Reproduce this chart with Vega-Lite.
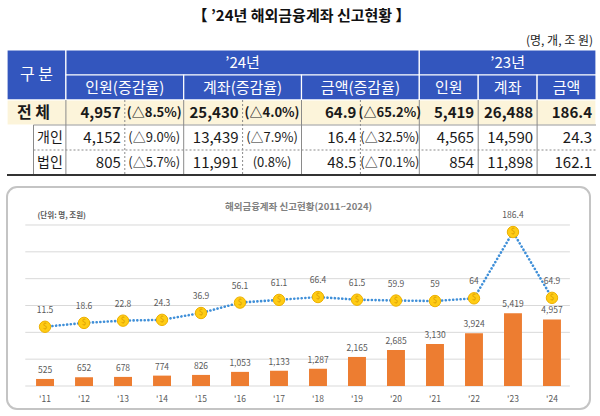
{
  "$schema": "https://vega.github.io/schema/vega-lite/v6.json",
  "background": "white",
  "padding": {"left": 6, "top": 0, "right": 0, "bottom": 0},
  "spacing": 10,
  "config": {
    "view": {"stroke": null},
    "font": "Noto Sans CJK KR"
  },
  "datasets": {
    "header": [
      {"c0": "구분", "c1": "구분", "r0": "h1", "r1": "h2", "kind": "header"},
      {"c0": "인원n", "c1": "금액p", "r0": "h1", "r1": "h1", "kind": "header"},
      {"c0": "인원23", "c1": "금액23", "r0": "h1", "r1": "h1", "kind": "header"},
      {"c0": "인원n", "c1": "인원p", "r0": "h2", "r1": "h2", "kind": "header"},
      {"c0": "계좌n", "c1": "계좌p", "r0": "h2", "r1": "h2", "kind": "header"},
      {"c0": "금액n", "c1": "금액p", "r0": "h2", "r1": "h2", "kind": "header"},
      {"c0": "인원23", "c1": "인원23", "r0": "h2", "r1": "h2", "kind": "header"},
      {"c0": "계좌23", "c1": "계좌23", "r0": "h2", "r1": "h2", "kind": "header"},
      {"c0": "금액23", "c1": "금액23", "r0": "h2", "r1": "h2", "kind": "header"},
      {"c0": "구분", "c1": "금액23", "r0": "전체", "r1": "전체", "kind": "total"}
    ],
    "cells": [
      {"r": "전체", "c": "구분", "t": "전 체"},
      {"r": "전체", "c": "인원n", "t": "4,957"},
      {"r": "전체", "c": "인원p", "t": "(△8.5%)"},
      {"r": "전체", "c": "계좌n", "t": "25,430"},
      {"r": "전체", "c": "계좌p", "t": "(△4.0%)"},
      {"r": "전체", "c": "금액n", "t": "64.9"},
      {"r": "전체", "c": "금액p", "t": "(△65.2%)"},
      {"r": "전체", "c": "인원23", "t": "5,419"},
      {"r": "전체", "c": "계좌23", "t": "26,488"},
      {"r": "전체", "c": "금액23", "t": "186.4"},
      {"r": "개인", "c": "구분", "t": "개인"},
      {"r": "개인", "c": "인원n", "t": "4,152"},
      {"r": "개인", "c": "인원p", "t": "(△9.0%)"},
      {"r": "개인", "c": "계좌n", "t": "13,439"},
      {"r": "개인", "c": "계좌p", "t": "(△7.9%)"},
      {"r": "개인", "c": "금액n", "t": "16.4"},
      {"r": "개인", "c": "금액p", "t": "(△32.5%)"},
      {"r": "개인", "c": "인원23", "t": "4,565"},
      {"r": "개인", "c": "계좌23", "t": "14,590"},
      {"r": "개인", "c": "금액23", "t": "24.3"},
      {"r": "법인", "c": "구분", "t": "법인"},
      {"r": "법인", "c": "인원n", "t": "805"},
      {"r": "법인", "c": "인원p", "t": "(△5.7%)"},
      {"r": "법인", "c": "계좌n", "t": "11,991"},
      {"r": "법인", "c": "계좌p", "t": "(0.8%)"},
      {"r": "법인", "c": "금액n", "t": "48.5"},
      {"r": "법인", "c": "금액p", "t": "(△70.1%)"},
      {"r": "법인", "c": "인원23", "t": "854"},
      {"r": "법인", "c": "계좌23", "t": "11,898"},
      {"r": "법인", "c": "금액23", "t": "162.1"}
    ],
    "series": [
      {"year": 2011, "people": 525, "amount": 11.5},
      {"year": 2012, "people": 652, "amount": 18.6},
      {"year": 2013, "people": 678, "amount": 22.8},
      {"year": 2014, "people": 774, "amount": 24.3},
      {"year": 2015, "people": 826, "amount": 36.9},
      {"year": 2016, "people": 1053, "amount": 56.1},
      {"year": 2017, "people": 1133, "amount": 61.1},
      {"year": 2018, "people": 1287, "amount": 66.4},
      {"year": 2019, "people": 2165, "amount": 61.5},
      {"year": 2020, "people": 2685, "amount": 59.9},
      {"year": 2021, "people": 3130, "amount": 59},
      {"year": 2022, "people": 3924, "amount": 64},
      {"year": 2023, "people": 5419, "amount": 186.4},
      {"year": 2024, "people": 4957, "amount": 64.9}
    ]
  },
  "vconcat": [
    {
      "width": 589,
      "height": 175,
      "layer": [
        {
          "data": {"name": "header"},
          "mark": {"type": "rect", "stroke": "white", "strokeWidth": 1.2},
          "encoding": {
            "x": {"field": "c0", "type": "nominal", "bandPosition": 0, "axis": null,
                  "scale": {"type": "band", "paddingInner": 0, "paddingOuter": 0,
                            "domain": ["구분", "인원n", "인원p", "계좌n", "계좌p", "금액n", "금액p", "인원23", "계좌23", "금액23"]}},
            "x2": {"field": "c1", "bandPosition": 1},
            "y": {"field": "r0", "type": "nominal", "bandPosition": 0, "axis": null,
                  "scale": {"type": "band", "paddingInner": 0, "paddingOuter": 0,
                            "domain": ["title", "unit", "h1", "h2", "전체", "개인", "법인"]}},
            "y2": {"field": "r1", "bandPosition": 1},
            "color": {"field": "kind", "type": "nominal", "legend": null,
                      "scale": {"domain": ["header", "total"], "range": ["#3356BE", "#FCF4DA"]}}
          }
        },
        {
          "data": {"values": [
            {"c": "인원n", "k": "group"}, {"c": "인원p", "k": "inner"},
            {"c": "계좌n", "k": "group"}, {"c": "계좌p", "k": "inner"},
            {"c": "금액n", "k": "group"}, {"c": "금액p", "k": "inner"},
            {"c": "인원23", "k": "group"}, {"c": "계좌23", "k": "group"}, {"c": "금액23", "k": "group"}
          ]},
          "mark": {"type": "rule", "color": "#8a8a8a", "strokeWidth": 1},
          "encoding": {
            "x": {"field": "c", "type": "nominal", "bandPosition": 0},
            "y": {"datum": "전체", "type": "nominal", "bandPosition": 0},
            "y2": {"datum": "법인", "bandPosition": 1},
            "strokeDash": {"field": "k", "type": "nominal", "legend": null,
                           "scale": {"domain": ["group", "inner"], "range": [[1, 0], [2, 2]]}}
          }
        },
        {
          "data": {"values": [{"r": "개인", "k": "group"}, {"r": "법인", "k": "inner"}]},
          "mark": {"type": "rule", "color": "#8a8a8a", "strokeWidth": 1},
          "encoding": {
            "x": {"datum": "구분", "type": "nominal", "bandPosition": 0.45},
            "x2": {"datum": "금액23", "bandPosition": 1},
            "y": {"field": "r", "type": "nominal", "bandPosition": 0},
            "strokeDash": {"field": "k", "type": "nominal", "legend": null}
          }
        },
        {
          "data": {"values": [{"r": "개인"}]},
          "mark": {"type": "rule", "color": "#8a8a8a", "strokeWidth": 1},
          "encoding": {
            "x": {"datum": "구분", "type": "nominal", "bandPosition": 0.45},
            "y": {"field": "r", "type": "nominal", "bandPosition": 0},
            "y2": {"datum": "법인", "bandPosition": 1}
          }
        },
        {
          "data": {"values": [{"r": "법인"}]},
          "mark": {"type": "rule", "color": "#333333", "strokeWidth": 2},
          "encoding": {
            "x": {"datum": "구분", "type": "nominal", "bandPosition": 0},
            "x2": {"datum": "금액23", "bandPosition": 1},
            "y": {"field": "r", "type": "nominal", "bandPosition": 1}
          }
        },
        {
          "data": {"values": [{"r": "title", "t": "【 ’24년 해외금융계좌 신고현황 】"}]},
          "mark": {"type": "text", "fontSize": 15, "fontWeight": "bold", "color": "#111111", "dy": 3},
          "encoding": {
            "y": {"field": "r", "type": "nominal"},
            "text": {"field": "t"}
          }
        },
        {
          "data": {"values": [{"r": "unit", "t": "(명, 개, 조 원)"}]},
          "mark": {"type": "text", "fontSize": 12, "color": "#222222", "align": "right", "dx": -3, "dy": 3},
          "encoding": {
            "x": {"datum": "금액23", "type": "nominal", "bandPosition": 1},
            "y": {"field": "r", "type": "nominal"},
            "text": {"field": "t"}
          }
        },
        {
          "data": {"values": [
            {"c": "계좌p", "r": "h1", "t": "’24년"},
            {"c": "인원p", "r": "h2", "t": "인원(증감율)"},
            {"c": "계좌p", "r": "h2", "t": "계좌(증감율)"},
            {"c": "금액p", "r": "h2", "t": "금액(증감율)"}
          ]},
          "mark": {"type": "text", "fontSize": 15, "color": "white"},
          "encoding": {
            "x": {"field": "c", "type": "nominal", "bandPosition": 0},
            "y": {"field": "r", "type": "nominal"},
            "text": {"field": "t"}
          }
        },
        {
          "data": {"values": [
            {"c": "계좌23", "r": "h1", "t": "’23년"},
            {"c": "인원23", "r": "h2", "t": "인원"},
            {"c": "계좌23", "r": "h2", "t": "계좌"},
            {"c": "금액23", "r": "h2", "t": "금액"}
          ]},
          "mark": {"type": "text", "fontSize": 15, "color": "white"},
          "encoding": {
            "x": {"field": "c", "type": "nominal"},
            "y": {"field": "r", "type": "nominal"},
            "text": {"field": "t"}
          }
        },
        {
          "data": {"values": [{"c": "구분", "r": "h2", "t": "구 분"}]},
          "mark": {"type": "text", "fontSize": 16, "color": "white"},
          "encoding": {
            "x": {"field": "c", "type": "nominal"},
            "y": {"field": "r", "type": "nominal", "bandPosition": 0},
            "text": {"field": "t"}
          }
        },
        {
          "data": {"name": "cells"},
          "transform": [{"filter": {"and": [{"field": "r", "equal": "전체"}, {"field": "c", "oneOf": ["인원n", "계좌n", "금액n", "인원23", "계좌23", "금액23"]}]}}],
          "mark": {"type": "text", "fontSize": 15, "fontWeight": "bold", "color": "#1a1a1a", "align": "right", "dx": -4},
          "encoding": {
            "x": {"field": "c", "type": "nominal", "bandPosition": 1},
            "y": {"field": "r", "type": "nominal"},
            "text": {"field": "t"}
          }
        },
        {
          "data": {"name": "cells"},
          "transform": [{"filter": {"and": [{"not": {"field": "r", "equal": "전체"}}, {"field": "c", "oneOf": ["인원n", "계좌n", "금액n", "인원23", "계좌23", "금액23"]}]}}],
          "mark": {"type": "text", "fontSize": 15, "color": "#1a1a1a", "align": "right", "dx": -4},
          "encoding": {
            "x": {"field": "c", "type": "nominal", "bandPosition": 1},
            "y": {"field": "r", "type": "nominal"},
            "text": {"field": "t"}
          }
        },
        {
          "data": {"name": "cells"},
          "transform": [{"filter": {"and": [{"field": "r", "equal": "전체"}, {"field": "c", "oneOf": ["인원p", "계좌p", "금액p"]}]}}],
          "mark": {"type": "text", "fontSize": 13, "fontWeight": "bold", "color": "#1a1a1a"},
          "encoding": {
            "x": {"field": "c", "type": "nominal"},
            "y": {"field": "r", "type": "nominal"},
            "text": {"field": "t"}
          }
        },
        {
          "data": {"name": "cells"},
          "transform": [{"filter": {"and": [{"not": {"field": "r", "equal": "전체"}}, {"field": "c", "oneOf": ["인원p", "계좌p", "금액p"]}]}}],
          "mark": {"type": "text", "fontSize": 13, "color": "#1a1a1a"},
          "encoding": {
            "x": {"field": "c", "type": "nominal"},
            "y": {"field": "r", "type": "nominal"},
            "text": {"field": "t"}
          }
        },
        {
          "data": {"name": "cells"},
          "transform": [{"filter": {"and": [{"field": "r", "equal": "전체"}, {"field": "c", "equal": "구분"}]}}],
          "mark": {"type": "text", "fontSize": 16, "fontWeight": "bold", "color": "#1a1a1a"},
          "encoding": {
            "x": {"field": "c", "type": "nominal", "bandPosition": 0.45},
            "y": {"field": "r", "type": "nominal"},
            "text": {"field": "t"}
          }
        },
        {
          "data": {"name": "cells"},
          "transform": [{"filter": {"and": [{"not": {"field": "r", "equal": "전체"}}, {"field": "c", "equal": "구분"}]}}],
          "mark": {"type": "text", "fontSize": 14, "color": "#1a1a1a"},
          "encoding": {
            "x": {"field": "c", "type": "nominal", "bandPosition": 0.73},
            "y": {"field": "r", "type": "nominal"},
            "text": {"field": "t"}
          }
        }
      ]
    },
    {
      "width": 583,
      "height": 222,
      "view": {"fill": "white", "stroke": "#c4c4c4", "strokeWidth": 2, "cornerRadius": 10},
      "title": {"text": "해외금융계좌 신고현황(2011~2024)", "fontSize": 9.5, "fontWeight": "bold", "color": "#808080", "offset": -24, "anchor": "middle"},
      "data": {"name": "series"},
      "encoding": {
        "x": {"field": "year", "type": "ordinal",
              "scale": {"type": "band", "paddingInner": 0.54, "paddingOuter": 0.745},
              "axis": {"orient": "bottom", "offset": -23, "domain": false, "ticks": false, "tickSize": 0, "grid": false,
                       "labelPadding": 8, "labelFontSize": 8.5, "labelColor": "#595959", "labelAngle": 0,
                       "labelExpr": "\"'\" + substring(datum.label, 2)", "title": null}}
      },
      "layer": [
        {
          "layer": [
            {
              "data": {"values": [{"g": 0}, {"g": 2000}, {"g": 4000}, {"g": 6000}, {"g": 8000}, {"g": 10000}, {"g": 12000}]},
              "mark": {"type": "rule", "color": "#d9d9d9", "strokeWidth": 1},
              "encoding": {
                "x": {"datum": 2011, "type": "ordinal", "bandPosition": -0.6},
                "x2": {"datum": 2024, "bandPosition": 1.5},
                "y": {"field": "g", "type": "quantitative",
                      "scale": {"domain": [-1714, 14832], "nice": false, "zero": false},
                      "axis": {"orient": "left", "grid": false, "labels": false, "ticks": false, "domain": false,
                               "title": "(단위: 명, 조원)", "titleAngle": 0, "titleX": 30, "titleY": 28,
                               "titleAlign": "left", "titleBaseline": "middle", "titleFontSize": 7.5,
                               "titleColor": "#595959", "titleFontWeight": "bold"}}
              }
            },
            {
              "mark": {"type": "bar", "color": "#ED7D31"},
              "encoding": {
                "y": {"field": "people", "type": "quantitative",
                      "scale": {"domain": [-1714, 14832], "nice": false, "zero": false}}
              }
            },
            {
              "mark": {"type": "text", "dy": -9, "fontSize": 8.5, "color": "#595959", "baseline": "middle"},
              "encoding": {
                "y": {"field": "people", "type": "quantitative",
                      "scale": {"domain": [-1714, 14832], "nice": false, "zero": false}},
                "text": {"field": "people", "type": "quantitative", "format": ","}
              }
            }
          ]
        },
        {
          "layer": [
            {
              "mark": {"type": "line", "color": "#3F8FD8", "strokeWidth": 2.6, "strokeDash": [0.1, 3.6], "strokeCap": "round"},
              "encoding": {
                "y": {"field": "amount", "type": "quantitative",
                      "scale": {"domain": [-140.3, 269.5], "nice": false, "zero": false}, "axis": null}
              }
            },
            {
              "mark": {"type": "point", "filled": true, "size": 130, "color": "#FFCC14", "stroke": "#EDB000", "strokeWidth": 1, "opacity": 1},
              "encoding": {
                "y": {"field": "amount", "type": "quantitative",
                      "scale": {"domain": [-140.3, 269.5], "nice": false, "zero": false}, "axis": null}
              }
            },
            {
              "mark": {"type": "text", "text": "$", "fontSize": 8, "color": "#D99A00", "baseline": "middle"},
              "encoding": {
                "y": {"field": "amount", "type": "quantitative",
                      "scale": {"domain": [-140.3, 269.5], "nice": false, "zero": false}, "axis": null}
              }
            },
            {
              "mark": {"type": "text", "dy": -17, "fontSize": 8.5, "color": "#595959", "baseline": "middle"},
              "encoding": {
                "y": {"field": "amount", "type": "quantitative",
                      "scale": {"domain": [-140.3, 269.5], "nice": false, "zero": false}, "axis": null},
                "text": {"field": "amount", "type": "quantitative"}
              }
            }
          ]
        }
      ],
      "resolve": {"scale": {"y": "independent"}}
    }
  ]
}
